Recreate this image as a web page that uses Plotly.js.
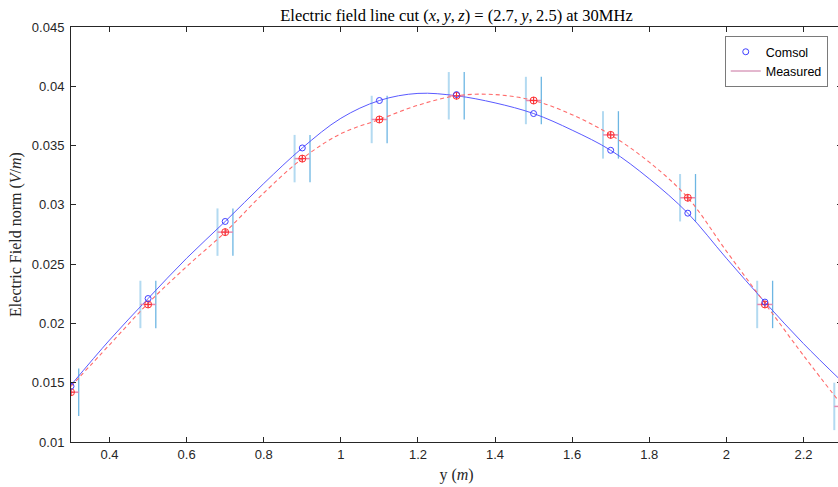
<!DOCTYPE html>
<html>
<head>
<meta charset="utf-8">
<script src="https://cdn.plot.ly/plotly-3.0.1.min.js"></script>
<style>
html,body{margin:0;padding:0;overflow:hidden;background:#fff;}
#chart{width:842px;height:487px;}
</style>
</head>
<body>
<div id="chart"></div>
<script>
// Sample positions y (m)
const yPos = [0.3, 0.5, 0.7, 0.9, 1.1, 1.3, 1.5, 1.7, 1.9, 2.1, 2.3];
// Comsol simulated field (V/m)
const comsol = [0.0147, 0.0221, 0.0286, 0.0348, 0.0388, 0.0393, 0.0377, 0.0346, 0.0293, 0.0218, 0.0151];
// Measured field (V/m)
const measured = [0.0142, 0.0216, 0.0277, 0.0339, 0.0372, 0.0392, 0.0388, 0.0359, 0.0306, 0.0216, 0.0130];
// Measurement uncertainties
const errField = [0.002, 0.002, 0.002, 0.002, 0.002, 0.002, 0.002, 0.002, 0.002, 0.002, 0.002];
const errPos = [0.02, 0.02, 0.02, 0.02, 0.02, 0.02, 0.02, 0.02, 0.02, 0.02, 0.02];
const errSmall = [0.0003, 0.0003, 0.0003, 0.0003, 0.0003, 0.0003, 0.0003, 0.0003, 0.0003, 0.0003, 0.0003];

// Smooth curves
const curveY = [0.3, 0.4, 0.5, 0.6, 0.7, 0.8, 0.9, 1.0, 1.1, 1.2, 1.3, 1.4, 1.5, 1.6, 1.7, 1.8, 1.9, 2.0, 2.1, 2.2, 2.3];
const comsolCurve = [0.0148, 0.0186, 0.0221, 0.0255, 0.0286, 0.0318, 0.0348, 0.0373, 0.0388, 0.0394, 0.0392, 0.0386, 0.0377, 0.0363, 0.0346, 0.0322, 0.0293, 0.0255, 0.0218, 0.0183, 0.0151];
const measuredCurve = [0.0147, 0.0182, 0.0217, 0.0248, 0.0277, 0.0310, 0.0339, 0.0360, 0.0372, 0.0384, 0.0392, 0.0393, 0.0388, 0.0376, 0.0359, 0.0336, 0.0306, 0.0261, 0.0217, 0.0173, 0.0131];

const yTicks = [0.01, 0.015, 0.02, 0.025, 0.03, 0.035, 0.04, 0.045];
const yTickText = ['0.01', '0.015', '0.02', '0.025', '0.03', '0.035', '0.04', '0.045'];
const xTicks = [0.4, 0.6, 0.8, 1, 1.2, 1.4, 1.6, 1.8, 2, 2.2];
const xTickText = ['0.4', '0.6', '0.8', '1', '1.2', '1.4', '1.6', '1.8', '2', '2.2'];

const leftX = yPos.map((v, i) => v - errPos[i]);
const rightX = yPos.map((v, i) => v + errPos[i]);

const traces = [
  {x: leftX, y: measured, type: 'scatter', mode: 'markers', showlegend: false, hoverinfo: 'skip',
   marker: {size: 1, color: 'rgba(0,0,0,0)'},
   error_y: {type: 'data', array: errField, visible: true, color: '#b3daf1', thickness: 2, width: 0}},
  {x: rightX, y: measured, type: 'scatter', mode: 'markers', showlegend: false, hoverinfo: 'skip',
   marker: {size: 1, color: 'rgba(0,0,0,0)'},
   error_y: {type: 'data', array: errField, visible: true, color: '#6db6e3', thickness: 1.3, width: 0}},
  {x: curveY, y: comsolCurve, type: 'scatter', mode: 'lines', showlegend: false, hoverinfo: 'skip',
   line: {color: '#5a5aff', width: 1, shape: 'spline', smoothing: 1}},
  {x: curveY, y: measuredCurve, type: 'scatter', mode: 'lines', showlegend: false, hoverinfo: 'skip',
   line: {color: '#ff6b6b', width: 1.1, dash: '4px,3px', shape: 'spline', smoothing: 1}},
  {x: yPos, y: measured, type: 'scatter', mode: 'markers', showlegend: false,
   marker: {symbol: 'circle-cross-open', size: 7, color: '#ff3030', line: {width: 1}},
   error_x: {type: 'data', array: errPos, visible: true, color: '#e58bb0', thickness: 1.5, width: 0},
   error_y: {type: 'data', array: errSmall, visible: true, color: '#b05a9a', thickness: 1, width: 0}},
  {x: yPos, y: comsol, type: 'scatter', mode: 'markers', name: 'Comsol',
   marker: {symbol: 'circle-open', size: 6, color: '#4040ff', line: {width: 1}}},
  {x: [null], y: [null], type: 'scatter', mode: 'lines', name: 'Measured',
   line: {color: '#c8709e', width: 1}}
];

const axisBase = {
  showline: true, mirror: 'ticks', linecolor: '#262626', linewidth: 1,
  ticks: 'inside', ticklen: 5, tickcolor: '#262626', tickwidth: 1,
  showgrid: false, zeroline: false,
  tickfont: {family: 'Liberation Sans, Arial, sans-serif', size: 13, color: '#262626'}
};

const layout = {
  width: 842, height: 487,
  margin: {l: 71, r: 0, t: 27, b: 45},
  paper_bgcolor: '#ffffff', plot_bgcolor: '#ffffff',
  title: {
    text: 'Electric field line cut (<i>x</i>,\u2009<i>y</i>,\u2009<i>z</i>) = (2.7,\u2009<i>y</i>,\u20092.5) at 30MHz',
    font: {family: 'Liberation Serif, Times New Roman, serif', size: 16.5, color: '#000'},
    x: 0.5, xref: 'paper', xanchor: 'center',
    y: 1 - 15 / 487, yref: 'container', yanchor: 'middle'
  },
  xaxis: Object.assign({}, axisBase, {
    range: [0.3, 2.3], tickvals: xTicks, ticktext: xTickText,
    title: {text: 'y (<i>m</i>)', font: {family: 'Liberation Serif, Times New Roman, serif', size: 16, color: '#262626'}, standoff: 8}
  }),
  yaxis: Object.assign({}, axisBase, {
    range: [0.01, 0.045], tickvals: yTicks, ticktext: yTickText, ticklabelstandoff: 3,
    title: {text: 'Electric Field norm (<i>V</i>/<i>m</i>)', font: {family: 'Liberation Serif, Times New Roman, serif', size: 16, color: '#262626'}, standoff: 6}
  }),
  legend: {
    x: 0.9815, y: 0.978, xanchor: 'right', yanchor: 'top',
    bgcolor: '#ffffff', bordercolor: '#7a7a7a', borderwidth: 1,
    font: {family: 'Liberation Sans, Arial, sans-serif', size: 12.5, color: '#000'},
    itemwidth: 30, tracegroupgap: 0
  },
  showlegend: true
};

Plotly.newPlot('chart', traces, layout, {displayModeBar: false, staticPlot: true});
</script>
</body>
</html>
